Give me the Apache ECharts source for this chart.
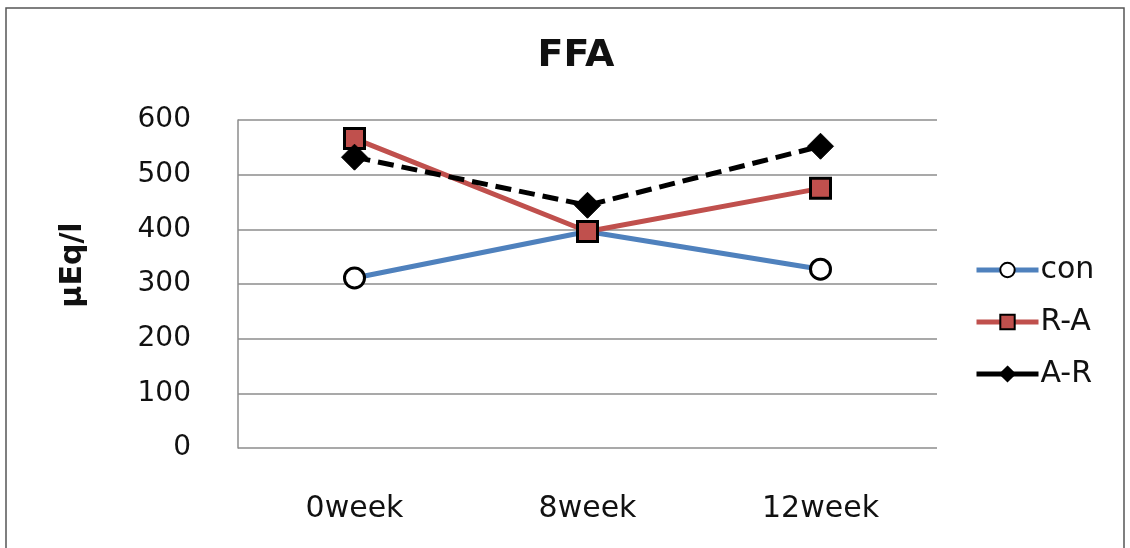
<!DOCTYPE html>
<html><head><meta charset="utf-8">
<script src="https://cdn.jsdelivr.net/npm/echarts@6/dist/echarts.min.js"></script>
<style>html,body{margin:0;padding:0;background:#fff}#c{width:1130px;height:548px}</style>
</head><body><div id="c"></div>
<script>
var categories = ['0week', '8week', '12week'];
var conValues = [311, 396, 327];
var raValues = [566, 396, 475];
var arValues = [532, 444, 552];
var seriesNames = ['con', 'R-A', 'A-R'];
var yTicks = { min: 0, max: 600, interval: 100 };

var chart = echarts.init(document.getElementById('c'), null, { renderer: 'canvas' });
var font = 'DejaVu Sans';
chart.setOption({
  animation: false,
  backgroundColor: '#fff',
  title: {
    text: 'FFA', left: 571, top: 32, textAlign: 'center',
    textStyle: { fontFamily: font, fontSize: 38, fontWeight: 'bold', color: '#111' }
  },
  graphic: [{
    type: 'rect', shape: { x: 6, y: 8, width: 1118, height: 560 },
    style: { fill: 'none', stroke: '#555', lineWidth: 1.5 }, silent: true
  }],
  legend: {
    orient: 'vertical', left: 969, top: 250, itemWidth: 62, itemHeight: 18, itemGap: 22,
    lineStyle: { width: 5, type: 'solid' },
    textStyle: { fontFamily: font, fontSize: 30, color: '#111', padding: [0, 0, 0, -3] },
    data: seriesNames
  },
  grid: { left: 238, right: 193, top: 120, bottom: 100, containLabel: false },
  xAxis: {
    type: 'category', data: categories, boundaryGap: true,
    axisLine: { show: false }, axisTick: { show: false },
    axisLabel: { fontFamily: font, fontSize: 30, color: '#111', margin: 46 }
  },
  yAxis: {
    type: 'value', min: yTicks.min, max: yTicks.max, interval: yTicks.interval,
    name: 'μEq/l', nameLocation: 'middle', nameGap: 150, nameRotate: 90,
    nameTextStyle: { fontFamily: font, fontSize: 30, fontWeight: 'bold', color: '#111', padding: [0, 0, 0, 38] },
    axisLine: { show: true, lineStyle: { color: '#8c8c8c', width: 1.5 } },
    axisTick: { show: false },
    splitLine: { lineStyle: { color: '#8c8c8c', width: 1.5 } },
    axisLabel: { fontFamily: font, fontSize: 28, color: '#111', margin: 47 }
  },
  series: [
    {
      name: seriesNames[0], type: 'line', data: conValues,
      symbol: 'circle', symbolSize: 20,
      lineStyle: { color: '#4F81BD', width: 5 },
      itemStyle: { color: '#fff', borderColor: '#000', borderWidth: 3 },
      z: 2
    },
    {
      name: seriesNames[1], type: 'line', data: raValues,
      symbol: 'rect', symbolSize: 20,
      lineStyle: { color: '#C0504D', width: 5 },
      itemStyle: { color: '#C0504D', borderColor: '#000', borderWidth: 3 },
      z: 3
    },
    {
      name: seriesNames[2], type: 'line', data: arValues,
      symbol: 'diamond', symbolSize: [26, 26],
      lineStyle: { color: '#000', width: 5, type: [16, 8] },
      itemStyle: { color: '#000', borderColor: '#000', borderWidth: 1 },
      z: 4
    }
  ]
});
</script></body></html>
